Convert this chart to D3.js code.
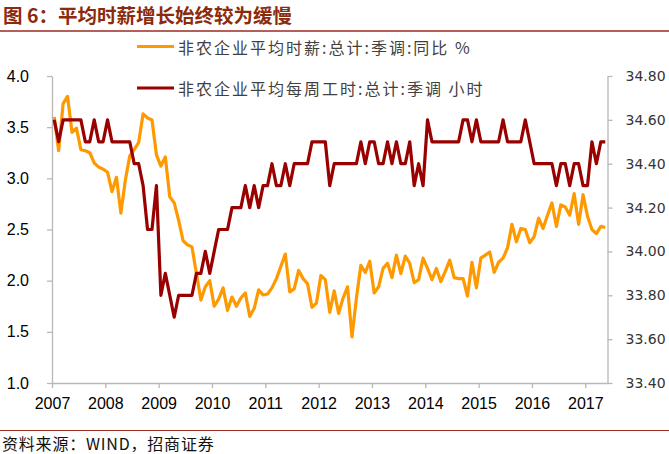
<!DOCTYPE html>
<html>
<head>
<meta charset="utf-8">
<script src="https://cdn.jsdelivr.net/npm/d3@7"></script>
<style>
  html, body { margin: 0; padding: 0; background: #fff; }
  svg { display: block; }
</style>
</head>
<body>
<svg id="chart" width="669" height="454"></svg>
<script>
// ---- data (monthly, Jan 2007 – May 2017) ----
const years = ["2007","2008","2009","2010","2011","2012","2013","2014","2015","2016","2017"];
const leftTicks = [1.0, 1.5, 2.0, 2.5, 3.0, 3.5, 4.0];
const rightTicks = [33.4, 33.6, 33.8, 34.0, 34.2, 34.4, 34.6, 34.8];
const seriesNames = ["非农企业平均时薪:总计:季调:同比 %", "非农企业平均每周工时:总计:季调 小时"];

// 非农企业平均时薪:总计:季调:同比 (%)
const wage = [
  3.60,3.27,3.73,3.80,3.45,3.49,3.28,3.27,3.25,3.15,3.11,3.09,
  3.06,2.87,3.01,2.66,2.98,3.22,3.28,3.35,3.63,3.59,3.57,3.23,
  3.12,3.21,2.82,2.76,2.59,2.39,2.35,2.33,2.07,1.81,1.94,2.00,
  1.75,1.82,1.93,1.71,1.84,1.75,1.83,1.88,1.65,1.73,1.91,1.86,
  1.87,1.93,2.02,2.14,2.26,1.89,1.92,2.10,2.02,1.97,1.74,1.78,
  2.05,2.01,1.69,1.90,1.68,1.83,1.94,1.45,1.83,2.15,2.08,2.19,
  1.88,1.94,2.12,2.17,2.03,2.25,2.07,2.24,2.17,1.98,2.01,2.22,
  2.12,2.01,2.12,1.99,2.09,2.20,2.03,2.02,2.02,1.85,2.18,1.93,
  2.22,2.25,2.28,2.08,2.18,2.22,2.32,2.55,2.38,2.51,2.50,2.37,
  2.43,2.61,2.51,2.64,2.76,2.53,2.74,2.72,2.64,2.85,2.55,2.84,
  2.63,2.50,2.46,2.53,2.52
];

// 非农企业平均每周工时:总计:季调 (小时)
const hours = [
  34.6,34.5,34.6,34.6,34.6,34.6,34.6,34.5,34.5,34.6,34.5,34.5,
  34.6,34.5,34.5,34.5,34.5,34.5,34.4,34.4,34.3,34.1,34.1,34.3,
  33.8,33.9,33.8,33.7,33.8,33.8,33.8,33.8,33.9,33.9,34.0,33.9,
  34.0,34.1,34.1,34.1,34.2,34.2,34.2,34.3,34.2,34.3,34.2,34.3,
  34.3,34.4,34.3,34.3,34.4,34.3,34.4,34.4,34.4,34.4,34.5,34.5,
  34.5,34.5,34.3,34.4,34.4,34.4,34.4,34.4,34.4,34.5,34.4,34.5,
  34.5,34.4,34.4,34.5,34.4,34.5,34.4,34.4,34.5,34.3,34.4,34.3,
  34.6,34.5,34.5,34.5,34.5,34.5,34.5,34.5,34.6,34.6,34.5,34.6,
  34.5,34.5,34.5,34.5,34.5,34.6,34.5,34.5,34.5,34.5,34.6,34.5,
  34.4,34.4,34.4,34.4,34.4,34.3,34.4,34.4,34.3,34.4,34.4,34.3,
  34.3,34.5,34.4,34.5,34.5
];

const colors = { wage: "#FF9900", hours: "#990000" };

// ---- layout ----
const svg = d3.select("#chart");
const W = 669, H = 454;
const plotLeft = 52, plotRight = 607.5, plotTop = 76, plotBottom = 383;

const x = d3.scaleLinear().domain([0, 125]).range([plotLeft, plotRight]);
const yL = d3.scaleLinear().domain([1, 4]).range([plotBottom, plotTop]);
const yR = d3.scaleLinear().domain([33.4, 34.8]).range([plotBottom, plotTop]);

// ---- title ----
svg.append("text")
  .attr("x", 3).attr("y", 14)
  .attr("dominant-baseline", "central")
  .style("font-family", "'Noto Sans CJK SC', sans-serif")
  .style("font-weight", "bold")
  .style("font-size", "19.5px")
  .style("fill", "#8c2a0c")
  .text("图 6：平均时薪增长始终较为缓慢");
svg.append("line")
  .attr("x1", 0).attr("x2", W).attr("y1", 31).attr("y2", 31)
  .attr("stroke", "#9c2a23").attr("stroke-width", 1.5);

// ---- footer ----
svg.append("line")
  .attr("x1", 0).attr("x2", W).attr("y1", 430.5).attr("y2", 430.5)
  .attr("stroke", "#9c2a23").attr("stroke-width", 1.2);
svg.append("text")
  .attr("x", 2).attr("y", 443)
  .attr("dominant-baseline", "central")
  .style("font-family", "'Noto Sans CJK SC', sans-serif")
  .style("font-size", "16px")
  .style("letter-spacing", "0.8px")
  .style("fill", "#111")
  .text("资料来源：WIND，招商证券");

// ---- axes ----
const axisColor = "#b8b8b8";
const gL = svg.append("g").attr("transform", `translate(${plotLeft},0)`)
  .call(d3.axisLeft(yL).tickValues(leftTicks).tickFormat(d3.format(".1f"))
    .tickSize(5).tickSizeOuter(0).tickPadding(18));
const gR = svg.append("g").attr("transform", `translate(${plotRight},0)`)
  .call(d3.axisRight(yR).tickValues(rightTicks).tickFormat(d3.format(".2f"))
    .tickSize(5).tickSizeOuter(0).tickPadding(13));
const gB = svg.append("g").attr("transform", `translate(0,${plotBottom})`)
  .call(d3.axisBottom(x).tickValues(years.map((d, i) => i * 12))
    .tickFormat((d, i) => years[i]).tickSize(5).tickSizeOuter(0).tickPadding(10));

[gL, gR, gB].forEach(g => {
  g.select(".domain").attr("stroke", axisColor).attr("stroke-width", 1.3);
  g.selectAll(".tick line").attr("stroke", axisColor).attr("stroke-width", 1.3);
});
gL.selectAll("text").style("font-family", "'Liberation Sans', Arial, sans-serif")
  .style("font-size", "16px").style("fill", "#000");
gB.selectAll("text").style("font-family", "'Liberation Sans', Arial, sans-serif")
  .style("font-size", "16px").style("fill", "#000");
gR.selectAll("text").style("font-family", "'DejaVu Sans', Verdana, sans-serif")
  .style("font-size", "14px").style("fill", "#333");

// ---- lines ----
const lineW = d3.line().x((d, i) => x(i + 0.5)).y(d => yL(d));
const lineH = d3.line().x((d, i) => x(i + 0.5)).y(d => yR(d));

svg.append("path").datum(wage)
  .attr("d", lineW).attr("fill", "none")
  .attr("stroke", colors.wage).attr("stroke-width", 3.2)
  .attr("stroke-linejoin", "round");
svg.append("path").datum(hours)
  .attr("d", lineH).attr("fill", "none")
  .attr("stroke", colors.hours).attr("stroke-width", 3.2)
  .attr("stroke-linejoin", "round");

// ---- legend ----
const legend = [
  { name: seriesNames[0], color: colors.wage, y: 46.5 },
  { name: seriesNames[1], color: colors.hours, y: 88 }
];
legend.forEach(l => {
  svg.append("line")
    .attr("x1", 137).attr("x2", 174).attr("y1", l.y).attr("y2", l.y)
    .attr("stroke", l.color).attr("stroke-width", 3.2);
  svg.append("text")
    .attr("x", 178).attr("y", l.y)
    .attr("dominant-baseline", "central")
    .style("font-family", "'Noto Sans CJK SC', sans-serif")
    .style("font-size", "16px")
    .style("letter-spacing", "2px")
    .style("fill", "#404040")
    .text(l.name);
});
</script>
</body>
</html>
